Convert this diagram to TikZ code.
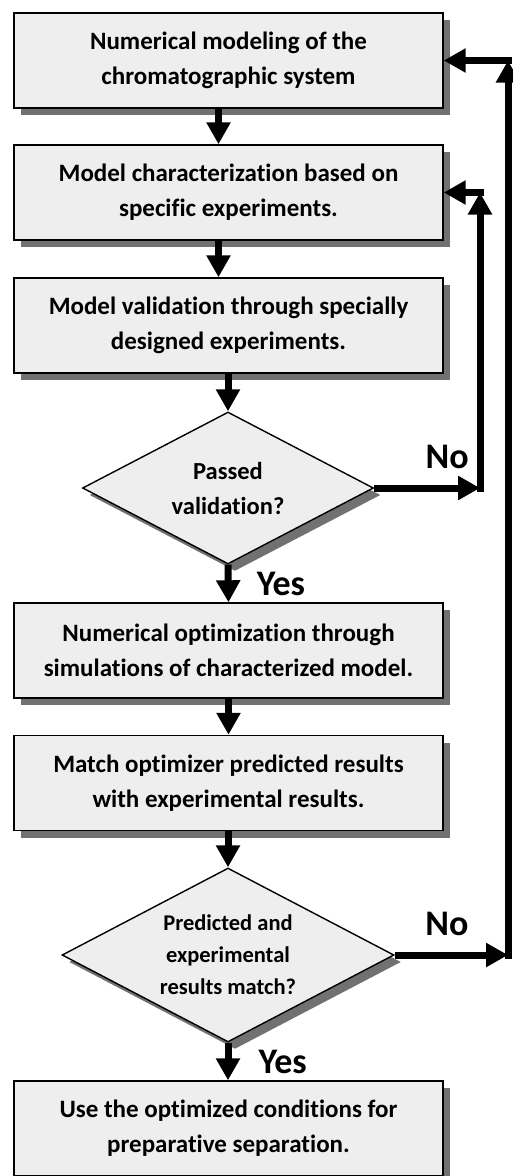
\documentclass[tikz,border=0pt]{standalone}
\usepackage{fontspec}
\setmainfont{Carlito}[Ligatures=NoCommon]
\usepackage{xcolor}
\usepackage{tikz}
\usetikzlibrary{positioning,arrows.meta,shapes.geometric,shadows}

\definecolor{boxfill}{HTML}{EEEEEE}
\definecolor{shadowgray}{HTML}{717171}

\begin{document}
\begin{tikzpicture}[
        x=1pt, y=-1pt,
        stepbox/.style={draw, rectangle, line width=1.4pt, fill=boxfill, minimum width=429pt, minimum height=95pt,
            inner sep=0pt, align=center, font=\fontsize{25}{35}\selectfont\bfseries,
            drop shadow={shadow xshift=7pt, shadow yshift=-7pt, fill=shadowgray, opacity=1}},
        decision/.style={draw, diamond, aspect=1.91, line width=1.4pt, fill=boxfill, inner sep=0pt, align=center,
            drop shadow={shadow xshift=7pt, shadow yshift=-7pt, fill=shadowgray, opacity=1}},
        flow/.style={line width=7pt, -{Triangle[length=22pt,width=23pt]}},
        lab/.style={font=\fontsize{36}{36}\selectfont\bfseries, inner sep=0pt}
    ]
        \useasboundingbox (0,0) rectangle (513,1176);

        % Steps and decisions
        \node[stepbox] (model) at (228.5,60.5) {Numerical modeling of the\\chromatographic system};
        \node[stepbox] (charac) at (228.5,192.5) {Model characterization based on\\specific experiments.};
        \node[stepbox] (valid) at (228.5,325.5) {Model validation through specially\\designed experiments.};
        \node[decision, minimum width=291pt, minimum height=152pt, font=\fontsize{24.5}{35}\selectfont\bfseries]
            (passed) at (228,488) {Passed\\validation?};
        \node[stepbox] (optim) at (228.5,650.5) {Numerical optimization through\\simulations of characterized model.};
        \node[stepbox] (match) at (228.5,783) {Match optimizer predicted results\\with experimental results.};
        \node[decision, minimum width=332pt, minimum height=174pt, font=\fontsize{22.5}{32}\selectfont\bfseries]
            (agree) at (228,955) {Predicted and\\experimental\\results match?};
        \node[stepbox] (use) at (228.5,1128.5) {Use the optimized conditions for\\preparative separation.};

        % Corners of the feedback loops
        \coordinate (k1) at (480,488);
        \coordinate (k2) at (480,192.5);
        \coordinate (k3) at (508,955);
        \coordinate (k4) at (508,60.5);

        % Main flow
        \draw[flow] ([xshift=-10pt]model.south) -- ([xshift=-10pt]charac.north);
        \draw[flow] ([xshift=-10pt]charac.south) -- ([xshift=-10pt]valid.north);
        \draw[flow] (valid.south -| passed.north) -- (passed.north);
        \draw[flow] (passed.south) -- node[lab, right=25pt]{Yes} (optim.south |- optim.north);
        \draw[flow] (optim.south) -- (match.north);
        \draw[flow] (match.south -| agree.north) -- (agree.north);
        \draw[flow] (agree.south) -- node[lab, right=27pt]{Yes} (use.north -| agree.south);

        % Loop back to characterization
        \draw[flow] (passed.east) -- node[lab, above=16pt, pos=0.69]{No} (k1);
        \draw[flow] ([yshift=-3.5pt]k1) -- (k2);
        \draw[flow] ([xshift=3.5pt]k2) -- (charac.east);

        % Loop back to modeling
        \draw[flow] (agree.east) -- node[lab, above=16pt, pos=0.46]{No} (k3);
        \draw[flow] ([yshift=-3.5pt]k3) -- (k4);
        \draw[flow] ([xshift=3.5pt]k4) -- (model.east);
    \end{tikzpicture}
\end{document}
